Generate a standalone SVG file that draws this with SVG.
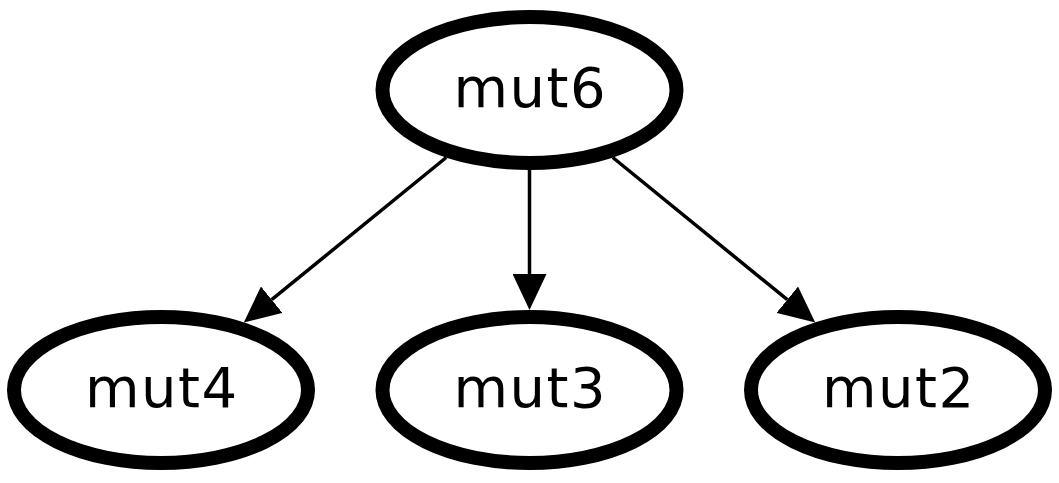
<svg xmlns="http://www.w3.org/2000/svg" width="1059" height="483" viewBox="0 0 1059 483">
<style>
.node ellipse{fill:#fff;stroke:#000;stroke-width:14}
.node text{font-family:"DejaVu Sans",sans-serif;font-size:56px;letter-spacing:1.5px;text-anchor:middle;fill:#000}
.edge{stroke:#000;stroke-width:3.5;fill:none}
</style>
<defs>
<marker id="arrow" viewBox="0 0 36 34" refX="0" refY="17" markerWidth="36" markerHeight="34" markerUnits="userSpaceOnUse" orient="auto">
<path d="M0,0 L36,17 L0,34 z" fill="#000"/>
</marker>
</defs>
<rect width="1059" height="483" fill="#fff"/>
<g id="connectors">
<line class="edge" x1="446.2" y1="157.5" x2="271.7" y2="299.7" marker-end="url(#arrow)"/>
<line class="edge" x1="529.5" y1="170" x2="529.5" y2="274" marker-end="url(#arrow)"/>
<line class="edge" x1="612.8" y1="157.5" x2="787.3" y2="299.7" marker-end="url(#arrow)"/>
</g>
<g id="mut6" class="node">
<ellipse cx="529.5" cy="90" rx="147" ry="73"/>
<text x="530.3" y="107">mut6</text>
</g>
<g id="mut4" class="node">
<ellipse cx="161" cy="390" rx="147" ry="73"/>
<text x="161.8" y="407">mut4</text>
</g>
<g id="mut3" class="node">
<ellipse cx="529.5" cy="390" rx="147" ry="73"/>
<text x="530.3" y="407">mut3</text>
</g>
<g id="mut2" class="node">
<ellipse cx="898" cy="390" rx="147" ry="73"/>
<text x="898.8" y="407">mut2</text>
</g>
</svg>
